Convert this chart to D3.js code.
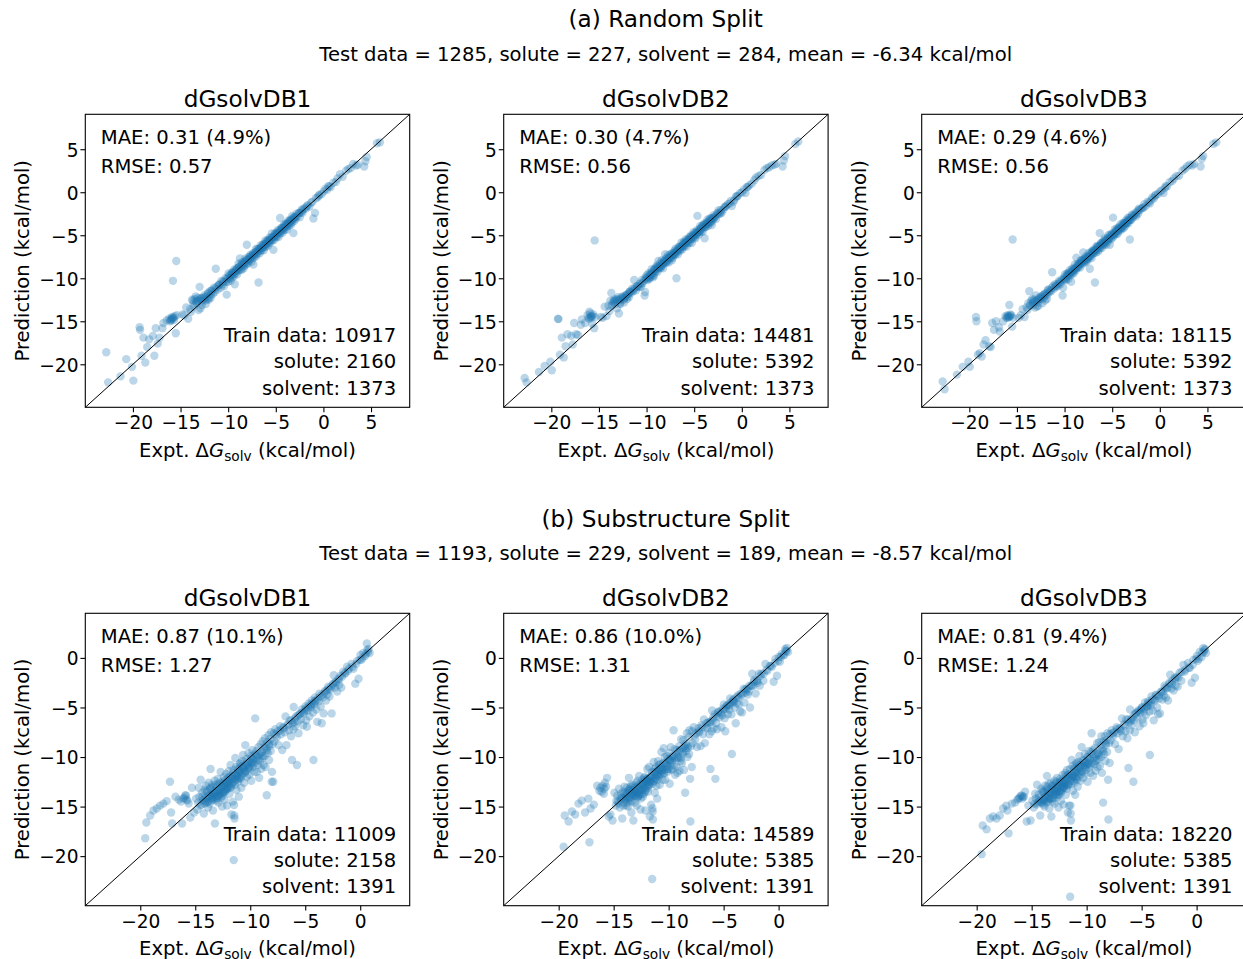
<!DOCTYPE html>
<html>
<head>
<meta charset="utf-8">
<script src="https://cdn.jsdelivr.net/npm/d3@7"></script>
<style>
  body { margin: 0; background: #fff; }
  svg { display: block; }
  text { font-family: "DejaVu Sans", sans-serif; fill: #000; }
</style>
</head>
<body>
<svg id="fig" width="1243" height="959"></svg>
<script>
// ---------- data ----------
const modelNames = ["dGsolvDB1", "dGsolvDB2", "dGsolvDB3"];
const randomTicks = [-20, -15, -10, -5, 0, 5];
const substructureTicks = [-20, -15, -10, -5, 0];

// Random split: experimental values and model predictions (kcal/mol)
const randomExpt = [
  -22.8, -22.6, -21.3, -20.7, -20.1, -19.95, -19.3, -19.25, -19.1, -18.9,
  -18.7, -18.5, -18.3, -17.9, -17.75, -17.6, -17.4, -17.2, -16.9, -16.8,
  -16.45, -16.2, -16.0, -15.8, -15.7, -15.5, -15.45, -15.8, -15.4, -15.9,
  -16.1, -15.6, -15.9, -15.7, -16.0,
  -14.4, -14.2, -14.0, -13.8, -13.7, -13.6, -13.5, -13.4, -13.3, -13.2,
  -13.1, -13.0, -12.9, -12.8, -12.7, -12.6, -12.5, -12.4, -12.3, -12.2,
  -12.1, -12.0, -11.9, -11.8, -11.7, -11.6, -11.5, -11.4, -11.3, -11.2,
  -11.1, -11.0, -14.6, -14.8, -13.9, -12.75, -12.35, -13.35, -12.05, -11.85,
  -10.15, -12.9, -13.1,
  -10.92, -10.77, -10.71, -10.58, -10.49, -10.43, -10.28, -10.21, -10.12, -10.03,
  -9.96, -9.88, -9.86, -9.79, -9.74, -9.72, -9.63, -9.61, -9.54, -9.48,
  -9.46, -9.39, -9.37, -9.31, -9.24, -9.22, -9.13, -9.11, -9.06, -8.98,
  -8.96, -8.91, -8.84, -8.82, -8.76, -8.69, -8.66, -8.58, -8.56, -8.51,
  -8.44, -8.41, -8.36, -8.29, -8.27, -8.19, -8.16, -8.11, -8.04, -7.99,
  -7.96, -7.91, -7.84, -7.82, -7.76, -7.69, -7.67, -7.61, -7.53, -7.51,
  -7.46, -7.38, -7.35, -7.31, -7.26, -7.19, -7.16, -7.08, -7.06, -7.01,
  -6.94, -6.92, -6.86, -6.81, -6.74, -6.71, -6.64, -6.62, -6.56, -6.49,
  -6.47, -6.41, -6.34, -6.31, -6.26, -6.18, -6.16, -6.09, -6.06, -6.02,
  -5.94, -5.91, -5.86, -5.79, -5.76, -5.71, -5.64, -5.61, -5.56, -5.49,
  -5.46, -5.41, -5.34, -5.31, -5.25, -5.19, -5.17, -5.09, -5.06, -5.01,
  -4.94, -4.91, -4.86, -4.79, -4.76, -4.71, -4.66, -4.59, -4.55, -4.51,
  -4.44, -4.41, -4.36, -4.29, -4.26, -4.21, -4.14, -4.11, -4.06, -3.99,
  -3.96, -3.91, -3.84, -3.81, -3.76, -3.69, -3.66, -3.61, -3.54, -3.51,
  -3.44, -3.41, -3.36, -3.29, -3.26, -3.21, -3.15, -3.09, -3.06, -2.98,
  -2.93, -2.81, -2.72, -2.58, -2.49, -2.42, -2.28, -2.19, -2.12,
  -1.94, -1.82, -1.63, -1.47, -1.28, -1.05, -0.88, -0.79, -0.61, -0.42,
  -0.18, 0.03, 0.21, 0.38, 0.52, 0.77, 1.04, 1.31, 1.48, 1.75,
  2.02, 2.38, 2.62, 2.87, 3.13, 3.42, 3.61, 4.28, 4.41, 4.55,
  5.62, 5.93,
  -13.65, -13.25, -12.85, -12.45, -12.15, -11.75, -11.35, -10.95, -10.55, -10.05,
  -9.57, -9.18, -8.87, -8.53, -8.22, -7.93, -7.63, -7.33, -7.03, -6.77,
  -6.52, -6.23, -5.97, -5.72, -5.43, -5.13, -4.83, -4.57, -4.33, -4.03,
  -3.73, -3.43, -3.13, -2.87, -2.55, -2.25, -1.72, -1.15, -0.5, 0.62
];
const randomPredDB1 = [
  -18.6, -22.1, -21.4, -19.4, -20.3, -21.9, -15.7, -16.0, -19.0, -16.9,
  -19.8, -18.0, -17.1, -16.7, -19.0, -15.8, -17.6, -16.9, -15.8, -15.2,
  -14.9, -14.7, -14.9, -14.6, -14.85, -16.4, -8.0, -10.3, -14.3, -14.5,
  -15.0, -14.4, -14.7, -14.6, -14.8,
  -13.4, -14.7, -13.6, -12.5, -12.6, -13.3, -12.4, -12.1, -12.9, -12.3,
  -12.6, -11.0, -12.4, -12.7, -12.3, -12.5, -12.0, -12.6, -12.1, -12.4,
  -11.7, -12.2, -11.5, -11.9, -11.4, -11.8, -11.1, -11.6, -8.9, -11.0,
  -11.3, -10.8, -14.3, -14.2, -13.9, -13.1, -13.0, -12.7, -12.5, -12.3,
  -11.9, -13.5, -13.7,
  -10.7, -11.1, -10.3, -10.7, -10.4, -10.9, -10.0, -10.4, -10.1, -10.4,
  -9.45, -10.0, -9.65, -10.0, -9.65, -10.3, -9.35, -9.6, -9.85, -9.3,
  -9.55, -9.0, -9.75, -10.7, -9.15, -9.4, -8.85, -9.1, -9.55, -8.8,
  -9.15, -8.3, -8.95, -8.7, -7.7, -9.0, -8.45, -9.0, -8.15, -8.5,
  -8.65, -8.1, -8.85, -8.2, -8.35, -7.7, -8.45, -7.9, -6.1, -8.2,
  -7.85, -8.3, -7.55, -7.8, -7.95, -7.3, -7.75, -7.4, -8.05, -7.4,
  -7.65, -7.1, -8.4, -7.3, -7.55, -7.0, -7.25, -6.6, -7.45, -6.9,
  -7.15, -6.6, -6.85, -10.5, -6.55, -7.1, -6.55, -6.8, -6.15, -6.5,
  -6.75, -6.2, -6.45, -6.0, -6.75, -6.1, -6.35, -5.6, -6.05, -6.3,
  -5.75, -6.0, -5.55, -6.2, -5.65, -5.9, -5.25, -5.6, -5.85, -5.3,
  -5.55, -4.8, -5.55, -5.2, -6.7, -5.2, -5.55, -4.8, -5.15, -4.8,
  -5.25, -4.8, -5.05, -4.4, -4.75, -5.2, -4.45, -4.7, -3.0, -4.8,
  -4.15, -4.5, -4.15, -4.7, -4.15, -4.4, -3.75, -4.1, -4.35, -3.8,
  -4.05, -3.6, -4.35, -3.7, -3.95, -3.3, -3.65, -3.9, -3.35, -3.6,
  -3.15, -3.8, -3.25, -3.5, -2.75, -3.2, -4.75, -2.9, -3.35, -2.9,
  -3.1, -2.5, -2.8, -2.4, -2.9, -2.4, -2.0, -2.4, -2.0,
  -1.8, -1.9, -1.5, -1.7, -1.2, -3.05, -2.4, -0.7, -0.6, -0.3,
  -0.2, 0.1, 0.4, 0.3, 0.7, 0.6, 1.1, 1.2, 1.6, 2.1,
  1.8, 2.5, 2.7, 2.8, 3.3, 3.1, 3.2, 3.0, 3.6, 4.1,
  5.7, 5.8,
  -13.0, -12.6, -12.3, -12.2, -11.8, -11.5, -11.2, -10.8, -10.4, -9.9,
  -9.4, -9.1, -8.7, -8.4, -8.1, -7.8, -7.5, -7.2, -6.9, -6.6,
  -6.4, -6.1, -5.8, -5.6, -5.3, -5.0, -4.7, -4.5, -4.2, -3.9,
  -3.6, -3.3, -3.0, -2.8, -2.4, -2.2, -1.6, -1.1, -0.4, 0.7
];
const randomPredDB2 = [
  -21.6, -22.1, -20.9, -20.2, -19.7, -20.7, -14.7, -14.75, -18.9, -16.9,
  -19.2, -17.9, -16.5, -16.7, -17.7, -15.2, -16.5, -16.6, -15.4, -14.8,
  -15.2, -14.3, -13.9, -14.4, -15.3, -15.8, -5.6, -14.6, -14.5, -14.1,
  -14.6, -14.2, -14.5, -14.4, -14.7,
  -13.3, -14.4, -13.2, -12.6, -11.7, -13.0, -12.7, -12.5, -13.0, -12.4,
  -12.5, -12.2, -12.5, -12.9, -12.4, -12.2, -12.1, -12.5, -12.3, -12.0,
  -11.9, -12.1, -11.8, -11.6, -11.5, -11.7, -11.2, -11.5, -10.2, -11.1,
  -11.4, -10.9, -14.6, -14.5, -13.8, -13.0, -12.8, -12.6, -12.4, -12.2,
  -11.6, -14.1, -13.5,
  -11.0, -11.0, -10.6, -11.0, -10.2, -10.6, -10.3, -12.0, -9.9, -10.1,
  -9.65, -10.2, -9.85, -9.4, -9.95, -10.1, -9.55, -9.9, -9.35, -9.6,
  -8.95, -9.4, -9.65, -9.9, -9.05, -9.7, -9.05, -9.3, -8.75, -9.1,
  -8.85, -8.5, -9.25, -8.6, -8.0, -8.7, -8.85, -8.7, -8.25, -8.8,
  -8.35, -7.9, -8.55, -8.3, -8.85, -8.0, -8.05, -8.3, -7.2, -7.7,
  -8.05, -8.2, -7.65, -8.0, -7.35, -7.7, -8.15, -7.5, -7.65, -7.2,
  -7.65, -7.4, -7.9, -7.1, -7.65, -7.1, -7.25, -6.8, -7.25, -7.3,
  -6.55, -6.9, -10.0, -7.0, -6.65, -7.2, -6.35, -6.7, -6.35, -6.8,
  -6.35, -6.6, -5.85, -6.3, -6.65, -6.0, -6.25, -5.8, -6.35, -5.9,
  -6.15, -5.5, -5.85, -6.3, -5.55, -5.8, -5.55, -5.9, -5.25, -5.5,
  -5.85, -5.2, -5.45, -5.0, -5.9, -5.4, -5.05, -5.2, -4.65, -5.0,
  -5.25, -4.7, -5.35, -4.7, -4.95, -4.4, -2.75, -4.7, -4.55, -4.9,
  -4.25, -4.6, -3.95, -4.3, -4.55, -4.1, -3.85, -4.6, -3.85, -4.1,
  -3.65, -5.35, -4.05, -3.7, -4.05, -3.5, -3.75, -3.2, -3.55, -3.9,
  -3.35, -3.6, -3.05, -3.4, -3.05, -3.5, -3.8, -3.0, -3.25, -2.7,
  -3.0, -2.8, -3.1, -2.4, -2.6, -2.1, -2.5, -2.1, -2.4,
  -2.0, -1.7, -1.6, -1.4, -1.3, -1.6, -1.1, -0.9, -0.5, -0.4,
  -0.1, 0.0, 0.3, -0.1, 0.6, 0.8, 1.0, 1.4, 1.7, 1.9,
  2.0, 2.6, 2.8, 2.9, 3.1, 3.2, 3.3, 3.0, 3.7, 4.2,
  5.6, 5.9,
  -13.2, -12.8, -12.6, -12.3, -12.0, -11.6, -11.3, -10.9, -10.6, -10.0,
  -9.6, -9.0, -8.8, -8.6, -8.2, -7.9, -7.6, -7.3, -7.0, -6.8,
  -6.5, -6.2, -5.9, -5.7, -5.4, -5.1, -4.8, -4.6, -4.3, -4.0,
  -3.7, -3.4, -3.1, -2.9, -2.5, -2.3, -1.7, -1.0, -0.5, 0.6
];
const randomPredDB3 = [
  -22.0, -22.9, -21.2, -20.3, -19.7, -20.3, -14.5, -15.0, -18.9, -18.7,
  -19.1, -17.7, -17.2, -17.9, -18.0, -15.2, -16.0, -15.0, -15.7, -16.2,
  -15.0, -14.4, -14.3, -14.5, -14.2, -15.6, -5.5, -13.1, -14.6, -14.4,
  -14.6, -14.3, -14.5, -14.4, -14.6,
  -13.6, -14.5, -13.4, -12.9, -11.5, -13.2, -12.6, -12.4, -13.1, -12.5,
  -12.7, -12.0, -12.6, -12.8, -12.3, -12.4, -12.2, -12.4, -12.0, -12.3,
  -11.8, -12.0, -11.7, -11.9, -11.3, -11.6, -11.4, -11.5, -9.3, -10.9,
  -11.2, -10.7, -14.3, -14.6, -13.7, -13.2, -12.9, -12.8, -12.6, -12.4,
  -11.1, -13.3, -13.4,
  -10.9, -10.7, -10.9, -10.3, -10.5, -10.7, -10.1, -12.0, -10.2, -9.9,
  -9.55, -10.1, -10.25, -9.7, -9.45, -9.8, -9.45, -10.1, -9.55, -9.1,
  -9.65, -9.3, -9.65, -10.4, -9.25, -8.9, -9.35, -8.9, -9.45, -8.9,
  -9.05, -8.4, -8.85, -9.1, -7.6, -8.5, -8.75, -8.3, -8.55, -8.7,
  -8.25, -8.3, -8.75, -7.9, -8.25, -7.9, -8.35, -8.0, -7.0, -8.1,
  -7.75, -8.2, -7.85, -7.5, -7.95, -7.6, -8.05, -7.4, -7.55, -7.8,
  -7.05, -7.5, -8.9, -7.2, -7.45, -6.9, -7.65, -7.1, -6.85, -7.1,
  -6.65, -7.1, -6.75, -10.5, -6.75, -7.0, -6.25, -6.7, -6.35, -6.9,
  -6.35, -6.4, -6.65, -4.75, -6.45, -5.9, -6.15, -5.9, -6.45, -5.9,
  -6.05, -5.6, -6.15, -5.8, -5.35, -5.9, -5.55, -6.1, -5.55, -5.3,
  -5.75, -5.0, -5.45, -5.3, -6.1, -4.9, -5.35, -5.0, -5.45, -4.8,
  -4.95, -2.95, -5.15, -4.7, -4.95, -4.3, -4.75, -4.4, -4.85, -4.5,
  -4.15, -4.8, -4.25, -4.5, -4.05, -4.2, -3.75, -4.2, -4.35, -3.9,
  -4.15, -3.6, -3.85, -4.2, -3.55, -3.6, -3.95, -3.6, -3.25, -3.7,
  -3.35, -3.5, -2.95, -3.6, -3.25, -3.0, -5.5, -3.2, -2.95, -3.2,
  -2.6, -2.9, -2.7, -2.4, -2.8, -2.3, -2.5, -1.9, -2.1,
  -1.9, -1.8, -1.4, -1.6, -1.1, -1.3, -0.9, -0.6, -0.7, -0.3,
  -0.2, 0.1, 0.2, -0.1, 0.5, 0.7, 1.2, 1.3, 1.6, 1.9,
  1.9, 2.5, 2.7, 3.0, 3.2, 3.1, 3.3, 3.0, 3.9, 4.2,
  5.6, 5.8,
  -13.1, -12.9, -12.5, -12.1, -11.9, -11.4, -11.1, -11.0, -10.5, -10.1,
  -9.5, -9.2, -8.9, -8.5, -8.0, -7.8, -7.7, -7.4, -6.9, -6.7,
  -6.3, -6.1, -6.0, -5.6, -5.5, -5.1, -4.9, -4.5, -4.4, -4.1,
  -3.7, -3.5, -3.2, -2.7, -2.6, -2.1, -1.8, -1.2, -0.4, 0.7
];

// Substructure split: experimental values and model predictions (kcal/mol)
const substructureExpt = [
  -19.55, -19.45, -19.1, -18.8, -18.5, -18.2, -17.9, -17.6, -17.3, -17.2,
  -17.1, -16.8, -16.5, -16.2, -16.1, -15.9, -15.8, -15.6, -15.45, -15.3,
  -15.1, -16.0, -15.85, -15.7, -16.3,
  -14.93, -14.81, -14.68, -14.62, -14.51, -14.44, -14.37, -14.31, -14.22, -14.13,
  -14.09, -14.02, -13.94, -13.91, -13.84, -13.79, -13.76, -13.69, -13.66, -13.61,
  -13.53, -13.51, -13.46, -13.39, -13.33, -13.31, -13.24, -13.21, -13.16, -13.08,
  -13.06, -12.99, -12.94, -12.91, -12.83, -12.81, -12.76, -12.69, -12.64, -12.61,
  -12.56, -12.48, -12.46, -12.39, -12.34, -12.31, -12.26, -12.19, -12.14, -12.11,
  -12.04, -12.01, -11.94, -11.89, -11.86, -11.79, -11.74, -11.71, -11.66, -11.59,
  -11.56, -11.5, -11.47, -11.45, -11.43, -11.39, -11.36, -11.29, -11.26, -11.21,
  -11.14, -11.11, -11.04, -10.99, -10.96, -10.89, -10.86, -10.81, -10.74, -10.71,
  -10.66, -10.59, -10.56, -10.49, -10.45, -10.41, -10.34, -10.31, -10.24, -10.19,
  -10.16, -10.09, -10.06, -9.99, -9.94, -9.91, -9.84, -9.81, -9.76, -9.69,
  -9.66, -9.59, -9.55, -9.51, -9.44, -9.41, -9.36, -9.29, -9.26, -9.19,
  -9.16, -9.09, -9.04, -9.01, -8.94, -8.91, -8.86, -8.79, -8.76, -8.69,
  -8.66, -8.61, -8.54, -8.5, -8.44, -8.41, -8.34, -8.29, -8.26, -8.19,
  -8.14, -8.11, -8.05, -8.02, -7.96, -7.9,
  -14.35, -14.05, -13.98, -13.72, -13.58, -13.48, -13.38, -13.28, -13.12, -13.02,
  -12.92, -12.82, -12.72, -12.62, -12.52, -12.42, -12.32, -12.22, -12.12, -12.02,
  -11.92, -11.82, -11.72, -11.62, -11.52, -11.38, -11.28, -11.18, -11.08, -10.98,
  -10.88, -10.78, -10.68, -10.48, -10.28, -10.08, -9.88, -9.68, -9.48, -9.28,
  -9.08, -8.88, -8.68, -8.48, -8.28,
  -7.86, -7.81, -7.72, -7.58, -7.49, -7.42, -7.28, -7.21, -7.09, -7.02,
  -6.88, -6.79, -6.71, -6.62, -6.48, -6.41, -6.29, -6.2, -6.16, -6.08,
  -6.05, -5.98, -5.91, -5.82, -5.75, -5.68, -5.61, -5.52, -5.38, -5.31,
  -5.19, -5.12, -4.98, -4.91, -4.85, -4.78, -4.69, -4.62, -4.48, -4.41,
  -4.29, -4.25, -4.18, -4.11, -3.99, -3.9, -3.78, -3.71, -3.59, -3.5,
  -3.41, -3.33, -3.18, -3.11, -2.99, -2.92, -2.79, -2.72, -2.6, -2.48,
  -2.4, -2.29, -2.21, -2.09, -1.98, -1.91, -1.79, -1.72, -1.55, -1.39,
  -1.2, -1.02, -0.79, -0.61, -0.45, -0.29, -0.15, 0.02, 0.11, 0.28,
  0.45, 0.6, 0.71, 0.76, 0.86,
  -7.65, -7.25, -6.95, -6.55, -6.25, -5.95, -5.65, -5.45, -5.25, -5.05,
  -4.95, -4.75, -4.55, -4.45, -4.35, -4.15, -4.05, -3.85, -3.65, -3.45,
  -3.25, -3.05, -2.85, -2.65, -2.45, -2.25, -1.95, -1.65, -1.35, -1.1,
  -0.7, -0.35, -0.05, 0.2, 0.5, 0.65,
  -14.75, -14.55, -14.25, -14.12, -13.88, -13.82, -13.62, -13.52, -13.42, -13.36,
  -13.18, -13.1, -12.98, -12.86, -12.78, -12.66, -12.58, -12.44, -12.36, -12.28,
  -12.16, -12.08, -11.98, -11.88, -11.78, -11.68, -11.58, -11.46, -11.32, -11.22,
  -11.12, -11.02, -10.92, -10.76, -10.62, -10.46, -10.32, -10.12, -9.92, -9.72
];
const substructurePredDB1 = [
  -18.2, -16.6, -15.9, -15.4, -15.2, -14.9, -14.7, -14.45, -12.5, -15.6,
  -16.7, -14.0, -14.3, -16.7, -14.2, -13.85, -14.3, -14.7, -16.1, -13.1,
  -15.6, -14.1, -13.9, -14.4, -14.5,
  -14.2, -15.3, -13.1, -14.0, -12.3, -14.8, -13.6, -14.4, -15.7, -13.3,
  -14.1, -12.9, -14.6, -13.5, -15.1, -12.6, -13.9, -14.7, -13.2, -11.2,
  -14.2, -13.7, -12.8, -15.4, -13.4, -14.0, -12.4, -16.7, -13.6, -14.4,
  -13.0, -13.9, -12.2, -14.6, -13.3, -13.8, -12.7, -11.5, -14.1, -13.1,
  -15.0, -12.5, -13.6, -12.0, -14.3, -12.9, -13.4, -11.7, -12.6, -14.9,
  -13.2, -12.1, -11.4, -13.7, -12.4, -10.8, -13.0, -15.8, -12.2, -14.5,
  -11.6, -20.4, -14.85, -15.9, -16.2, -12.8, -10.1, -11.8, -13.3, -12.0,
  -11.2, -12.5, -14.0, -11.5, -10.7, -12.2, -11.0, -13.1, -10.4, -11.7,
  -9.8, -11.2, -12.6, -10.9, -8.8, -11.4, -10.2, -12.0, -10.7, -11.1,
  -9.6, -11.8, -10.4, -10.9, -9.9, -12.4, -10.6, -9.3, -11.0, -10.2,
  -11.5, -9.7, -6.1, -10.5, -9.4, -11.5, -10.0, -10.8, -9.0, -12.1,
  -9.8, -10.4, -8.7, -11.2, -9.5, -10.1, -8.4, -10.8, -9.2, -9.9,
  -8.1, -11.0, -9.1, -13.85, -8.5, -9.6, -7.8, -10.3, -8.9, -8.2,
  -9.4, -7.5, -12.5, -11.5, -8.7, -12.5,
  -14.0, -14.5, -13.4, -13.9, -13.1, -14.1, -13.0, -13.7, -12.8, -14.2,
  -13.4, -12.6, -13.6, -12.9, -13.9, -12.6, -13.5, -12.3, -13.2, -12.7,
  -12.0, -13.1, -11.9, -12.6, -11.3, -12.2, -11.0, -11.9, -11.3, -12.1,
  -10.6, -11.4, -10.9, -11.6, -10.5, -11.2, -10.1, -10.7, -9.8, -10.3,
  -9.6, -9.9, -8.9, -9.3, -8.7,
  -7.6, -8.4, -7.2, -8.0, -7.4, -8.8, -6.9, -7.7, -9.3, -7.0,
  -7.5, -5.9, -8.8, -6.8, -7.3, -6.3, -7.9, -10.3, -6.6, -7.2,
  -4.95, -6.5, -6.9, -5.9, -10.8, -6.4, -7.6, -5.7, -6.2, -5.2,
  -6.8, -5.6, -4.9, -6.3, -6.95, -5.3, -4.6, -5.9, -5.0, -4.3,
  -5.5, -10.3, -4.7, -4.0, -5.2, -6.45, -4.4, -3.6, -4.9, -6.6,
  -4.0, -5.6, -3.3, -4.3, -3.7, -2.9, -3.9, -3.2, -5.6, -2.6,
  -1.75, -3.0, -2.4, -3.4, -2.1, -2.7, -1.8, -3.0, -1.4, -1.6,
  -0.9, -1.1, -0.6, -1.1, -2.6, -0.3, -2.1, 0.3, -0.2, 0.5,
  0.2, 1.45, 0.6, 0.9, 0.5,
  -7.7, -7.3, -7.1, -6.7, -6.3, -6.1, -5.8, -5.6, -5.5, -5.3,
  -5.1, -5.0, -4.8, -4.7, -4.6, -4.4, -4.3, -4.1, -3.9, -3.7,
  -3.5, -3.3, -3.1, -2.9, -2.7, -2.5, -2.2, -1.9, -1.5, -1.3,
  -0.9, -0.6, -0.2, 0.0, 0.4, 0.8,
  -14.6, -14.9, -14.3, -14.7, -14.2, -14.5, -13.9, -14.4, -13.8, -14.3,
  -13.6, -14.1, -13.5, -13.9, -13.2, -13.7, -13.0, -13.5, -12.8, -13.3,
  -12.6, -13.1, -12.4, -12.9, -12.2, -12.7, -12.0, -12.5, -11.8, -12.3,
  -11.6, -12.1, -11.4, -11.9, -11.1, -11.5, -10.8, -11.0, -10.5, -10.2
];
const substructurePredDB2 = [
  -19.05, -15.9, -16.5, -15.5, -15.8, -14.7, -14.4, -15.6, -14.2, -18.6,
  -15.2, -14.8, -12.9, -13.1, -13.5, -13.7, -12.6, -12.1, -16.0, -15.8,
  -16.4, -12.9, -13.2, -13.0, -13.4,
  -13.6, -14.9, -13.9, -14.5, -13.2, -15.1, -14.1, -13.7, -16.2, -13.5,
  -14.6, -13.0, -14.3, -13.8, -14.9, -13.1, -13.6, -15.0, -13.4, -12.1,
  -14.0, -13.3, -13.0, -15.6, -13.7, -13.8, -12.9, -16.4, -13.4, -14.6,
  -13.2, -13.5, -12.6, -14.9, -13.1, -14.1, -12.9, -11.9, -13.8, -13.4,
  -15.3, -12.8, -13.3, -12.3, -14.0, -12.6, -13.7, -12.0, -12.4, -15.4,
  -13.0, -12.4, -11.2, -13.5, -12.7, -11.0, -12.8, -16.0, -12.0, -14.8,
  -11.9, -22.3, -15.2, -15.5, -16.3, -12.5, -10.5, -11.5, -13.6, -12.2,
  -11.0, -12.9, -14.2, -11.8, -10.4, -12.0, -11.3, -12.8, -10.7, -11.4,
  -9.5, -11.5, -12.3, -10.6, -9.1, -11.6, -10.0, -12.3, -10.9, -10.8,
  -9.9, -11.5, -10.2, -11.2, -9.6, -12.7, -10.4, -9.0, -11.3, -10.0,
  -11.2, -9.9, -7.3, -10.8, -9.2, -11.8, -9.7, -11.0, -9.3, -11.6,
  -10.0, -10.1, -8.9, -11.4, -9.3, -10.4, -8.2, -10.6, -9.5, -9.7,
  -8.3, -11.3, -8.9, -13.6, -8.7, -9.4, -7.6, -10.0, -9.1, -8.0,
  -9.7, -7.3, -12.2, -16.5, -8.9, -11.0,
  -14.3, -14.2, -13.6, -14.2, -13.3, -14.4, -12.8, -13.5, -13.1, -13.9,
  -13.6, -12.4, -13.9, -12.7, -14.2, -12.8, -13.3, -12.1, -13.5, -12.5,
  -12.2, -12.9, -12.1, -12.4, -11.5, -12.4, -11.2, -11.7, -11.5, -11.9,
  -10.8, -11.2, -11.1, -11.3, -10.7, -11.0, -10.3, -10.5, -10.0, -10.1,
  -9.4, -10.1, -9.1, -9.1, -8.9,
  -7.4, -8.6, -7.0, -8.2, -7.6, -9.0, -7.1, -7.5, -8.9, -6.8,
  -7.7, -6.2, -8.6, -7.0, -7.1, -6.5, -7.7, -11.2, -6.4, -7.4,
  -5.3, -6.3, -7.1, -5.7, -12.2, -6.6, -7.2, -5.5, -6.0, -5.4,
  -7.0, -5.8, -4.7, -6.1, -7.4, -5.1, -4.8, -5.7, -5.2, -4.1,
  -5.7, -9.7, -4.5, -4.2, -5.0, -6.6, -4.6, -3.8, -4.7, -5.4,
  -3.8, -5.5, -3.1, -4.5, -3.5, -3.1, -3.7, -3.4, -5.0, -2.8,
  -1.6, -2.8, -2.2, -3.6, -2.3, -2.5, -1.6, -2.8, -1.6, -2.3,
  -0.6, -1.3, -0.8, -0.9, -2.4, -0.1, -1.8, 0.1, -0.4, 0.4,
  0.3, 0.9, 0.7, 1.0, 0.6,
  -7.8, -7.4, -7.0, -6.6, -6.5, -6.0, -5.9, -5.4, -5.6, -5.1,
  -5.2, -4.9, -4.7, -4.8, -4.5, -4.3, -4.4, -4.0, -4.0, -3.6,
  -3.6, -3.2, -3.2, -2.8, -2.8, -2.4, -2.3, -1.8, -1.6, -1.2,
  -0.8, -0.5, -0.3, 0.1, 0.3, 0.7,
  -14.4, -14.7, -14.1, -14.9, -14.0, -14.6, -14.1, -14.2, -13.6, -14.5,
  -13.8, -13.9, -13.7, -14.0, -13.4, -13.5, -13.2, -13.7, -12.6, -13.1,
  -12.8, -13.3, -12.2, -13.1, -12.4, -12.5, -12.2, -12.7, -11.6, -12.1,
  -11.8, -12.3, -11.2, -11.7, -11.3, -11.7, -10.6, -11.2, -10.3, -10.4
];
const substructurePredDB3 = [
  -19.8, -16.9, -17.3, -16.2, -16.0, -16.2, -15.9, -15.2, -14.9, -15.4,
  -17.7, -14.7, -14.6, -14.2, -14.1, -13.9, -14.0, -13.5, -16.5, -14.9,
  -16.4, -13.9, -14.2, -14.0, -14.3,
  -14.4, -15.1, -13.7, -14.2, -12.8, -14.6, -13.8, -14.5, -15.9, -13.2,
  -14.3, -13.4, -14.8, -13.6, -15.0, -12.9, -14.0, -14.6, -13.3, -11.9,
  -14.1, -13.5, -12.7, -15.2, -13.6, -14.2, -12.6, -16.0, -13.3, -14.5,
  -12.9, -13.8, -12.4, -14.7, -13.4, -13.7, -12.5, -12.1, -14.0, -13.2,
  -15.1, -12.6, -13.5, -12.2, -14.4, -13.0, -13.2, -11.8, -12.7, -14.8,
  -13.1, -12.3, -11.6, -13.8, -12.5, -11.3, -12.9, -15.6, -12.1, -14.9,
  -11.7, -24.1, -14.9, -15.7, -16.4, -12.7, -10.3, -11.9, -13.4, -11.9,
  -11.1, -12.6, -13.8, -11.6, -10.6, -12.3, -11.2, -13.0, -10.5, -11.6,
  -9.9, -11.0, -12.4, -10.8, -9.0, -11.5, -10.3, -12.1, -10.6, -11.0,
  -9.7, -11.7, -10.5, -10.8, -10.0, -12.5, -10.7, -9.4, -11.1, -10.3,
  -11.6, -9.5, -7.6, -10.6, -9.3, -11.9, -10.1, -10.7, -9.1, -11.4,
  -9.9, -10.3, -8.6, -11.0, -9.6, -10.2, -8.5, -10.9, -9.3, -10.0,
  -7.9, -11.6, -9.2, -14.6, -8.4, -9.7, -7.9, -10.4, -8.8, -8.3,
  -9.5, -7.6, -12.3, -16.3, -8.6, -10.6,
  -14.1, -14.6, -13.5, -14.0, -13.0, -14.3, -13.2, -13.6, -12.9, -14.1,
  -13.3, -12.7, -13.5, -13.0, -13.8, -12.5, -13.6, -12.4, -13.1, -12.8,
  -11.9, -13.2, -11.8, -12.7, -11.2, -12.1, -10.9, -12.0, -11.2, -12.2,
  -10.7, -11.5, -10.8, -11.7, -10.4, -11.3, -10.0, -10.8, -9.7, -10.4,
  -9.7, -9.8, -8.8, -9.4, -8.6,
  -7.7, -8.3, -7.3, -7.9, -7.5, -8.7, -7.0, -7.6, -9.2, -7.1,
  -7.4, -6.1, -7.9, -6.7, -7.4, -6.2, -8.1, -11.1, -6.5, -7.3,
  -5.2, -6.4, -6.8, -6.0, -12.5, -6.3, -7.5, -5.6, -6.1, -5.3,
  -6.9, -5.5, -5.0, -6.2, -6.6, -5.4, -4.5, -5.8, -4.9, -4.4,
  -5.4, -9.8, -4.8, -3.9, -5.3, -6.3, -4.3, -3.7, -5.0, -5.7,
  -4.1, -5.6, -3.4, -4.2, -3.8, -2.8, -4.0, -3.1, -4.3, -2.5,
  -1.7, -3.1, -2.3, -3.3, -2.0, -2.8, -1.9, -2.9, -1.5, -2.3,
  -0.7, -1.2, -0.5, -1.0, -2.5, -0.2, -2.0, 0.2, -0.3, 0.6,
  0.1, 1.0, 0.8, 0.9, 0.5,
  -7.6, -7.2, -7.2, -6.8, -6.2, -6.2, -5.7, -5.5, -5.4, -5.2,
  -5.0, -5.1, -4.9, -4.6, -4.7, -4.5, -4.2, -4.2, -3.8, -3.8,
  -3.4, -3.4, -3.0, -3.0, -2.6, -2.6, -2.1, -2.0, -1.4, -1.4,
  -1.0, -0.7, -0.1, -0.1, 0.5, 0.6,
  -14.7, -14.8, -14.4, -14.6, -14.3, -14.4, -13.8, -14.5, -13.9, -14.2,
  -13.5, -14.2, -13.4, -13.8, -13.1, -13.8, -12.9, -13.4, -12.9, -13.4,
  -12.5, -13.0, -12.5, -12.8, -12.1, -12.8, -11.9, -12.4, -11.9, -12.4,
  -11.5, -12.0, -11.5, -12.0, -11.0, -11.4, -10.9, -10.9, -10.6, -10.1
];

// Summary statistics shown in each panel
const randomMAE = [0.31, 0.30, 0.29];
const randomMAEPct = [4.9, 4.7, 4.6];
const randomRMSE = [0.57, 0.56, 0.56];
const randomTrain = [10917, 14481, 18115];
const randomTrainSolute = [2160, 5392, 5392];
const randomTrainSolvent = [1373, 1373, 1373];

const substructureMAE = [0.87, 0.86, 0.81];
const substructureMAEPct = [10.1, 10.0, 9.4];
const substructureRMSE = [1.27, 1.31, 1.24];
const substructureTrain = [11009, 14589, 18220];
const substructureTrainSolute = [2158, 5385, 5385];
const substructureTrainSolvent = [1391, 1391, 1391];

const splitTitles = ["(a) Random Split", "(b) Substructure Split"];
const splitSubtitles = [
  "Test data = 1285, solute = 227, solvent = 284, mean = -6.34 kcal/mol",
  "Test data = 1193, solute = 229, solvent = 189, mean = -8.57 kcal/mol"
];

// ---------- layout ----------
const svg = d3.select("#fig");
const colLefts = [85.3, 503.7, 921.7];
const panelW = 324.4;
const centerX = 665.7;
const FONT_TITLE = 23.2, FONT_TEXT = 19.6, FONT_TICK = 18.6;
const dotColor = "#1f77b4";

const rows = [
  {
    top: 114.3, h: 293, lim: [-25, 9.06], ticks: randomTicks,
    expt: randomExpt, preds: [randomPredDB1, randomPredDB2, randomPredDB3],
    mae: randomMAE, maePct: randomMAEPct, rmse: randomRMSE,
    train: randomTrain, solute: randomTrainSolute, solvent: randomTrainSolvent,
    titleY: 27.3, subY: 61
  },
  {
    top: 613.3, h: 292.4, lim: [-25, 4.5], ticks: substructureTicks,
    expt: substructureExpt, preds: [substructurePredDB1, substructurePredDB2, substructurePredDB3],
    mae: substructureMAE, maePct: substructureMAEPct, rmse: substructureRMSE,
    train: substructureTrain, solute: substructureTrainSolute, solvent: substructureTrainSolvent,
    titleY: 526.7, subY: 560
  }
];

const defs = svg.append("defs");
const fmtTick = d3.format("d");

rows.forEach((row, ri) => {
  // split heading
  svg.append("text").attr("x", centerX).attr("y", row.titleY)
    .attr("text-anchor", "middle").style("font-size", FONT_TITLE + "px")
    .text(splitTitles[ri]);
  svg.append("text").attr("x", centerX).attr("y", row.subY)
    .attr("text-anchor", "middle").style("font-size", FONT_TEXT + "px")
    .text(splitSubtitles[ri]);

  colLefts.forEach((left, ci) => {
    const top = row.top, h = row.h, right = left + panelW, bottom = top + h;
    const x = d3.scaleLinear().domain(row.lim).range([left, right]);
    const y = d3.scaleLinear().domain(row.lim).range([bottom, top]);
    const g = svg.append("g");

    const clipId = `clip-${ri}-${ci}`;
    defs.append("clipPath").attr("id", clipId)
      .append("rect").attr("x", left).attr("y", top).attr("width", panelW).attr("height", h);

    // scatter points
    const pred = row.preds[ci];
    const n = Math.min(row.expt.length, pred.length);
    const pts = d3.range(n).map(i => [row.expt[i], pred[i]]);
    g.append("g").attr("clip-path", `url(#${clipId})`)
      .selectAll("circle").data(pts).join("circle")
      .attr("cx", d => x(d[0])).attr("cy", d => y(d[1])).attr("r", 4.2)
      .attr("fill", dotColor).attr("fill-opacity", 0.3);

    // y = x reference line
    g.append("line").attr("clip-path", `url(#${clipId})`)
      .attr("x1", x(row.lim[0])).attr("y1", y(row.lim[0]))
      .attr("x2", x(row.lim[1])).attr("y2", y(row.lim[1]))
      .attr("stroke", "#000").attr("stroke-width", 1);

    // axes
    const xAxis = g.append("g").attr("transform", `translate(0,${bottom})`)
      .call(d3.axisBottom(x).tickValues(row.ticks).tickFormat(fmtTick).tickSizeOuter(0).tickSize(4.9));
    const yAxis = g.append("g").attr("transform", `translate(${left},0)`)
      .call(d3.axisLeft(y).tickValues(row.ticks).tickFormat(fmtTick).tickSizeOuter(0).tickSize(4.9));
    [xAxis, yAxis].forEach(a => {
      a.select(".domain").remove();
      a.selectAll(".tick line").attr("stroke", "#000").attr("stroke-width", 1.1);
      a.selectAll(".tick text").attr("fill", "#000")
        .style("font-size", FONT_TICK + "px").style("font-family", '"DejaVu Sans", sans-serif');
    });
    xAxis.selectAll(".tick text").attr("y", 22).attr("dy", null);
    yAxis.selectAll(".tick text").attr("x", -6.8).attr("dy", "0.365em");

    // spines
    g.append("rect").attr("x", left).attr("y", top).attr("width", panelW).attr("height", h)
      .attr("fill", "none").attr("stroke", "#000").attr("stroke-width", 1.1);

    // panel title
    g.append("text").attr("x", left + panelW / 2).attr("y", top - 7)
      .attr("text-anchor", "middle").style("font-size", FONT_TITLE + "px")
      .text(modelNames[ci]);

    // axis labels
    const xl = g.append("text").attr("x", left + panelW / 2).attr("y", bottom + 49.4)
      .attr("text-anchor", "middle").style("font-size", FONT_TEXT + "px");
    xl.append("tspan").text("Expt. \u0394");
    xl.append("tspan").style("font-style", "italic").text("G");
    xl.append("tspan").attr("dy", 4).style("font-size", (FONT_TEXT * 0.7) + "px").text("solv");
    xl.append("tspan").attr("dy", -4).text(" (kcal/mol)");

    g.append("text")
      .attr("transform", `translate(${left - 56},${top + h / 2}) rotate(-90)`)
      .attr("text-anchor", "middle").style("font-size", FONT_TEXT + "px")
      .text("Prediction (kcal/mol)");

    // metrics, upper left
    g.append("text").attr("x", left + 15.5).attr("y", top + 30)
      .style("font-size", FONT_TEXT + "px")
      .text(`MAE: ${row.mae[ci].toFixed(2)} (${row.maePct[ci].toFixed(1)}%)`);
    g.append("text").attr("x", left + 15.5).attr("y", top + 59)
      .style("font-size", FONT_TEXT + "px")
      .text(`RMSE: ${row.rmse[ci].toFixed(2)}`);

    // training-set sizes, lower right
    const info = [
      [`Train data: ${row.train[ci]}`, 65],
      [`solute: ${row.solute[ci]}`, 39],
      [`solvent: ${row.solvent[ci]}`, 12.8]
    ];
    info.forEach(([t, off]) => {
      g.append("text").attr("x", right - 13.5).attr("y", bottom - off)
        .attr("text-anchor", "end").style("font-size", FONT_TEXT + "px").text(t);
    });
  });
});
</script>
</body>
</html>
